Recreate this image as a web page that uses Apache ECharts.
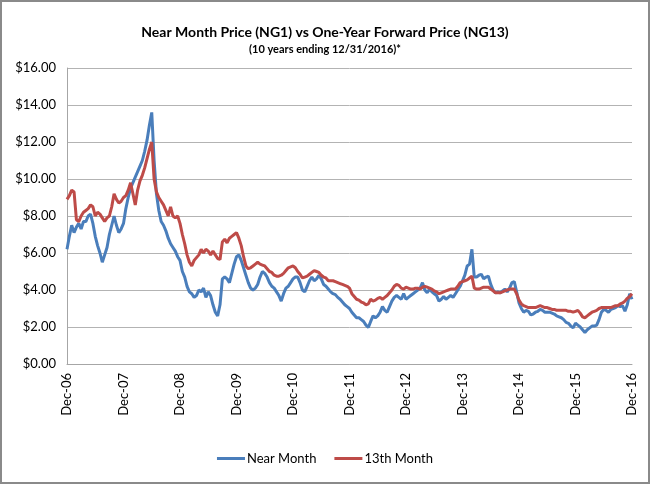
<!DOCTYPE html>
<html>
<head>
<meta charset="utf-8">
<script src="https://cdn.jsdelivr.net/npm/echarts@6/dist/echarts.min.js"></script>
<style>
html,body{margin:0;padding:0;background:#fff;}
#wrap{position:relative;width:650px;height:484px;}
#chart{position:absolute;left:0;top:0;width:650px;height:484px;}
#frame{position:absolute;left:0;top:0;width:650px;height:484px;box-sizing:border-box;border:2px solid #8a8a8a;pointer-events:none;}
</style>
</head>
<body>
<div id="wrap"><div id="chart"></div><div id="frame"></div></div>
<script>
// Tick labels on the x axis (one per year, December)
var tickLabels = ['Dec-06','Dec-07','Dec-08','Dec-09','Dec-10','Dec-11','Dec-12','Dec-13','Dec-14','Dec-15','Dec-16'];
var seriesNames = ['Near Month', '13th Month'];

// Near Month (NG1) price, $/MMBtu, sampled twice a month from Dec-06 to Dec-16
var nearMonth = [
  6.2, 6.9, 7.5, 7.1, 7.4, 7.6, 7.3, 7.7, 7.7, 8.0, 8.1, 7.6,
  6.9, 6.4, 6.0, 5.5, 5.9, 6.3, 7.0, 7.5, 8.0, 7.5, 7.1, 7.3,
  7.6, 8.4, 9.0, 9.5, 9.8, 10.1, 10.4, 10.7, 11.0, 11.5, 12.1, 12.9,
  13.6, 11.0, 9.2, 8.3, 7.7, 7.5, 7.2, 6.8, 6.5, 6.3, 6.1, 5.8,
  5.6, 5.0, 4.7, 4.2, 3.9, 3.8, 3.6, 3.7, 4.0, 3.9, 4.1, 3.6,
  3.9, 3.7, 3.2, 2.8, 2.6, 3.2, 4.6, 4.7, 4.6, 4.4, 4.9, 5.4,
  5.8, 5.9, 5.6, 5.2, 4.8, 4.4, 4.1, 4.0, 4.1, 4.3, 4.7, 5.0,
  4.9, 4.7, 4.4, 4.2, 4.1, 3.9, 3.7, 3.4, 3.8, 4.1, 4.2, 4.4,
  4.6, 4.7, 4.7, 4.4, 4.0, 3.9, 4.2, 4.5, 4.7, 4.5, 4.6, 4.8,
  4.6, 4.3, 4.2, 4.05, 3.9, 3.8, 3.75, 3.6, 3.5, 3.35, 3.2, 3.1,
  3.0, 2.8, 2.65, 2.5, 2.5, 2.4, 2.3, 2.1, 1.98, 2.3, 2.6, 2.5,
  2.6, 2.8, 3.1, 2.9, 2.8, 3.1, 3.4, 3.6, 3.7, 3.6, 3.5, 3.8,
  3.5, 3.6, 3.7, 3.8, 3.9, 4.0, 4.1, 4.4, 4.0, 3.85, 4.05, 3.9,
  3.8, 3.7, 3.4, 3.5, 3.65, 3.5, 3.6, 3.7, 3.6, 3.8, 4.0, 4.2,
  4.5, 4.8, 5.3, 5.4, 6.2, 4.7, 4.7, 4.8, 4.85, 4.6, 4.7, 4.75,
  4.3, 4.0, 3.85, 3.9, 3.85, 3.95, 4.05, 3.9, 4.1, 4.4, 4.45, 3.9,
  3.3, 3.0, 2.8, 2.9, 2.85, 2.65, 2.7, 2.8, 2.85, 2.95, 2.9, 2.8,
  2.8, 2.8, 2.75, 2.7, 2.6, 2.55, 2.5, 2.4, 2.25, 2.2, 2.05, 1.95,
  2.2, 2.1, 2.0, 1.85, 1.7, 1.85, 1.95, 2.05, 2.05, 2.1, 2.4, 2.8,
  2.95, 2.9, 2.8, 2.95, 3.0, 3.05, 3.15, 3.1, 3.15, 2.85, 3.2, 3.8,
  3.5
];

// 13th Month (NG13) price, same sampling
var month13 = [
  8.9, 9.1, 9.4, 9.3, 7.8, 7.7, 8.0, 8.2, 8.3, 8.4, 8.6, 8.5,
  8.0, 8.2, 8.1, 7.9, 7.7, 7.9, 8.0, 8.5, 9.2, 8.9, 8.7, 8.8,
  9.0, 9.1, 9.4, 9.8, 9.2, 8.6, 9.4, 9.9, 10.2, 10.6, 11.1, 11.6,
  12.0, 10.0, 9.3, 9.0, 8.8, 8.6, 8.3, 8.0, 8.5, 8.0, 7.9, 8.0,
  7.6, 7.0, 6.5, 5.9, 5.5, 5.3, 5.6, 5.75, 5.9, 6.2, 6.0, 6.2,
  6.1, 5.9, 6.1, 5.9, 5.7, 5.65, 6.6, 6.75, 6.55, 6.8, 6.9, 7.0,
  7.1, 6.8, 6.4, 5.8, 5.3, 5.15, 5.2, 5.3, 5.4, 5.5, 5.4, 5.35,
  5.3, 5.15, 5.0, 4.95, 4.8, 4.75, 4.75, 4.8, 4.9, 5.05, 5.2, 5.25,
  5.3, 5.2, 5.0, 4.85, 4.65, 4.7, 4.75, 4.85, 4.95, 5.05, 5.0, 4.95,
  4.8, 4.7, 4.65, 4.5, 4.5, 4.5, 4.45, 4.4, 4.35, 4.3, 4.25, 4.2,
  4.1, 3.8, 3.65, 3.5, 3.45, 3.35, 3.3, 3.2, 3.25, 3.5, 3.4, 3.45,
  3.55, 3.6, 3.5, 3.6, 3.7, 3.85, 4.0, 4.2, 4.3, 4.25, 4.1, 4.05,
  4.15, 4.1, 4.05, 4.05, 4.1, 4.1, 4.05, 4.15, 4.2, 4.15, 4.1, 4.05,
  3.95, 3.9, 3.8, 3.85, 3.9, 3.95, 4.0, 4.05, 4.05, 4.05, 4.2, 4.4,
  4.45, 4.5, 4.55, 4.65, 4.75, 4.1, 4.05, 4.05, 4.1, 4.15, 4.15, 4.15,
  4.05, 3.95, 3.85, 3.85, 3.85, 3.9, 3.95, 4.0, 4.05, 4.05, 4.05, 3.8,
  3.45, 3.25, 3.15, 3.1, 3.05, 3.05, 3.05, 3.05, 3.1, 3.15, 3.1, 3.05,
  3.05, 3.0, 2.95, 2.95, 2.9, 2.9, 2.9, 2.9, 2.9, 2.85, 2.85, 2.8,
  2.85, 2.9, 2.75, 2.55, 2.5, 2.6, 2.7, 2.8, 2.85, 2.9, 3.0, 3.05,
  3.05, 3.05, 3.05, 3.05, 3.1, 3.15, 3.15, 3.25, 3.3, 3.4, 3.55, 3.65,
  3.8
];

var SAMPLES_PER_MONTH = 2;
function toPairs(arr) {
  return arr.map(function (v, i) { return [i / SAMPLES_PER_MONTH, v]; });
}

var FONT = 'Lato';
var chart = echarts.init(document.getElementById('chart'), null, {renderer: 'canvas'});
chart.setOption({
  animation: false,
  backgroundColor: '#ffffff',
  title: [
    {
      text: 'Near Month Price (NG1) vs One-Year Forward Price (NG13)',
      left: 'center', top: 20,
      textStyle: {fontFamily: FONT, fontSize: 14, fontWeight: 'bold', color: '#000'}
    },
    {
      text: '(10 years ending 12/31/2016)*',
      left: 'center', top: 39,
      textStyle: {fontFamily: FONT, fontSize: 11, fontWeight: 'bold', color: '#000'}
    }
  ],
  legend: {
    data: seriesNames,
    bottom: 14,
    left: 'center',
    icon: 'rect',
    itemWidth: 28,
    itemHeight: 3,
    itemGap: 18,
    textStyle: {fontFamily: FONT, fontSize: 13, color: '#000', padding: [0, 0, 0, -3]}
  },
  grid: {left: 67, right: 18, top: 68, bottom: 120, containLabel: false},
  xAxis: {
    type: 'value',
    min: 0, max: 120, interval: 12,
    axisLine: {show: true, lineStyle: {color: '#a6a6a6', width: 1}},
    axisTick: {show: false},
    splitLine: {show: false},
    axisLabel: {
      rotate: 90, margin: 9,
      fontFamily: FONT, fontSize: 13, color: '#000',
      formatter: function (v) { return tickLabels[Math.round(v / 12)]; }
    }
  },
  yAxis: {
    type: 'value',
    min: 0, max: 16, interval: 2,
    axisLine: {show: true, lineStyle: {color: '#a6a6a6', width: 1}},
    axisTick: {show: false},
    splitLine: {show: true, lineStyle: {color: '#b3b3b3', width: 1}},
    axisLabel: {
      margin: 11, fontFamily: FONT, fontSize: 13, color: '#000',
      formatter: function (v) { return '$' + v.toFixed(2); }
    }
  },
  series: [
    {
      name: seriesNames[0], type: 'line', data: toPairs(nearMonth),
      showSymbol: false, symbol: 'none',
      lineStyle: {color: '#4a7ebb', width: 3},
      itemStyle: {color: '#4a7ebb'}
    },
    {
      name: seriesNames[1], type: 'line', data: toPairs(month13),
      showSymbol: false, symbol: 'none',
      lineStyle: {color: '#be4b48', width: 3},
      itemStyle: {color: '#be4b48'}
    }
  ]
});
</script>
</body>
</html>
